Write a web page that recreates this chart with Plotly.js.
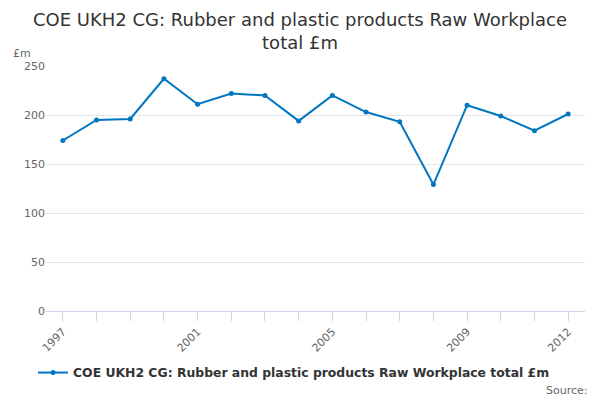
<!DOCTYPE html>
<html>
<head>
<meta charset="utf-8">
<script src="https://cdn.plot.ly/plotly-3.0.1.min.js"></script>
<style>html,body{margin:0;padding:0;background:#fff}#chart{width:600px;height:400px}</style>
</head>
<body>
<div id="chart"></div>
<script>
var years = [1997,1998,1999,2000,2001,2002,2003,2004,2005,2006,2007,2008,2009,2010,2011,2012];
var values = [174,195,196,237,211,222,220,194,220,203,193,129,210,199,184,201];
var labeledYears = [1997,2001,2005,2009,2012];
var seriesName = 'COE UKH2 CG: Rubber and plastic products Raw Workplace total £m';
var tickText = years.map(function(y){ return labeledYears.indexOf(y) >= 0 ? String(y) : ''; });

var trace = {
  x: years, y: values, type: 'scatter', mode: 'lines+markers', name: seriesName,
  line: {color: '#0077c0', width: 2},
  marker: {color: '#0077c0', size: 5}
};
var layout = {
  width: 600, height: 400,
  margin: {l: 46, r: 15, t: 66, b: 89, autoexpand: false},
  paper_bgcolor: '#fff', plot_bgcolor: '#fff',
  font: {family: 'DejaVu Sans, sans-serif', color: '#666'},
  title: {text: 'COE UKH2 CG: Rubber and plastic products Raw Workplace<br>total £m',
          font: {size: 18, color: '#333'}, x: 0.5, xanchor: 'center',
          yref: 'container', y: 0.935, yanchor: 'middle'},
  xaxis: {range: [1996.5, 2012.5], tickvals: years, ticktext: tickText, tickangle: -45,
          ticks: 'outside', ticklen: 9, tickcolor: '#ccd6eb', showgrid: false,
          showline: true, linecolor: '#ccd6eb', linewidth: 1, zeroline: false,
          tickfont: {size: 11, color: '#666'}, fixedrange: true},
  yaxis: {range: [0, 250], tickvals: [0,50,100,150,200,250], showgrid: true,
          gridcolor: '#e6e6e6', zeroline: false, showline: false, ticks: '',
          tickfont: {size: 11, color: '#666'}, fixedrange: true},
  showlegend: true,
  legend: {orientation: 'h', x: 0.49, xref: 'container', xanchor: 'center',
           yref: 'container', y: 0.0675, yanchor: 'middle',
           font: {size: 12.4, color: '#333', family: 'DejaVu Sans, sans-serif', weight: 'bold'}},
  annotations: [
    {text: '£m', xref: 'paper', yref: 'paper', x: -0.065, y: 1.015, xanchor: 'left', yanchor: 'bottom',
     showarrow: false, font: {size: 11, color: '#666'}},
    {text: 'Source:', xref: 'paper', yref: 'paper', x: 1.01, y: -0.29, xanchor: 'right', yanchor: 'top',
     showarrow: false, font: {size: 11, color: '#666'}}
  ]
};
Plotly.newPlot('chart', [trace], layout, {displayModeBar: false, staticPlot: true});
</script>
</body>
</html>
